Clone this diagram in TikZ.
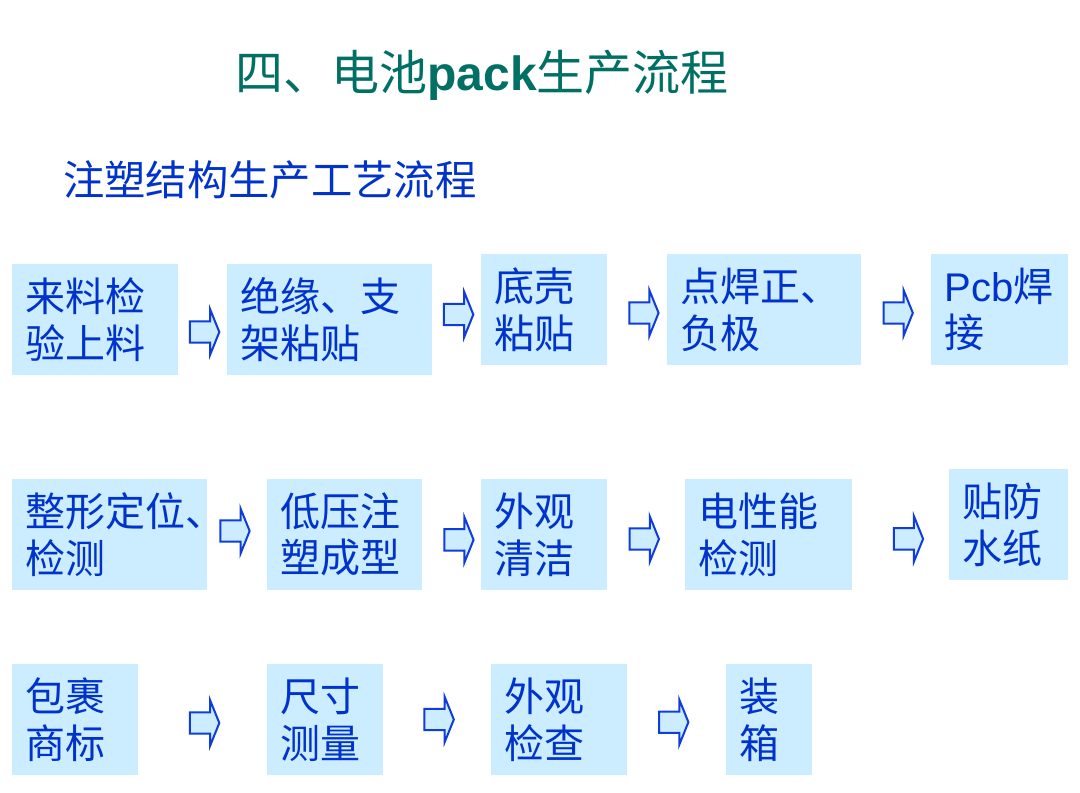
\documentclass[tikz,border=0pt]{standalone}
\usepackage{fontspec}
\setmainfont{Liberation Sans}
\newfontfamily\cjk{Noto Sans CJK SC}
\usepackage{tikz}
\usetikzlibrary{shapes.arrows}

\definecolor{boxblue}{RGB}{204,236,255}
\definecolor{textblue}{RGB}{0,51,204}
\definecolor{arrowblue}{RGB}{16,60,220}
\definecolor{titleteal}{RGB}{0,112,100}

\begin{document}
\begin{tikzpicture}[x=0.75pt,y=-0.75pt,
  step node/.style={fill=boxblue,text=textblue,align=left,inner xsep=10pt,inner ysep=0pt,minimum height=83.25pt,font=\cjk\fontsize{30}{35}\selectfont},
  flow arrow/.style={single arrow,draw=arrowblue,fill=boxblue,line width=1.5pt,inner sep=0pt,minimum height=22pt,single arrow head extend=9pt,single arrow tip angle=136},
  title node/.style={text=titleteal,inner sep=0pt,font=\cjk\fontsize{36}{40}\selectfont}]

  \useasboundingbox[fill=white] (0,0) rectangle (1080,792);

  \node[title node]  (title) at (482,75) {四、电池{\rmfamily\bfseries pack}生产流程};
  \node[title node,text=textblue,anchor=west,font=\cjk\fontsize{31}{34}\selectfont] (sub) at (63,180) {注塑结构生产工艺流程};

  % first row
  \node[step node,text width=104.5pt]  (1) at (95,319.5)    {来料检\\验上料};
  \node[step node,text width=133.75pt] (2) at (329.5,319.5) {绝缘、支\\架粘贴};
  \node[step node,text width=74.5pt]   (3) at (544,309.5)   {底壳\\粘贴};
  \node[step node,text width=125.5pt]  (4) at (764,309.5)   {点焊正、\\负极};
  \node[step node,text width=82.75pt]  (5) at (999.5,309.5) {{\rmfamily Pcb}焊\\接};

  % second row
  \node[step node,text width=126.25pt] (6)  at (109.5,534.5)  {整形定位、\\检测};
  \node[step node,text width=96.25pt]  (7)  at (344.5,534.5)  {低压注\\塑成型};
  \node[step node,text width=74.5pt]   (8)  at (544,534.5)    {外观\\清洁};
  \node[step node,text width=105.25pt] (9)  at (768.5,534.5)  {电性能\\检测};
  \node[step node,text width=69.25pt]  (10) at (1008.5,524.5) {贴防\\水纸};

  % third row
  \node[step node,text width=74.5pt] (11) at (75,719.5)  {包裹\\商标};
  \node[step node,text width=67pt]   (12) at (325,719.5) {尺寸\\测量};
  \node[step node,text width=82pt]   (13) at (559,719.5) {外观\\检查};
  \node[step node,text width=44.5pt] (14) at (769,719.5) {装\\箱};

  \path (1.east) -- node[flow arrow,yshift=-9.4pt] (a1) {\rule{0pt}{14.5pt}} (2.west);
  \path (2.east) -- node[flow arrow] (a2) {\rule{0pt}{14.5pt}} (3.west);
  \path (3.east) -- node[flow arrow,pos=.58,yshift=-2.6pt] (a3) {\rule{0pt}{14.5pt}} (4.west);
  \path (4.east) -- node[flow arrow,yshift=-2.6pt] (a4) {\rule{0pt}{14.5pt}} (5.west);
  \path (6.east) -- node[flow arrow,pos=.43,yshift=2.6pt] (a5) {\rule{0pt}{14.5pt}} (7.west);
  \path (7.east) -- node[flow arrow,pos=.59,yshift=-4pt] (a6) {\rule{0pt}{14.5pt}} (8.west);
  \path (8.east) -- node[flow arrow,pos=.45,yshift=-3.4pt] (a7) {\rule{0pt}{14.5pt}} (9.west);
  \path (9.east) -- node[flow arrow,pos=.56,yshift=-7.5pt] (a8) {\rule{0pt}{14.5pt}} (10.west);
  \path (11.east) -- node[flow arrow,yshift=-2.6pt] (a9) {\rule{0pt}{14.5pt}} (12.west);
  \path (12.east) -- node[flow arrow] (a10) {\rule{0pt}{14.5pt}} (13.west);
  \path (13.east) -- node[flow arrow,pos=.45,yshift=-2pt] (a11) {\rule{0pt}{14.5pt}} (14.west);
\end{tikzpicture}
\end{document}
